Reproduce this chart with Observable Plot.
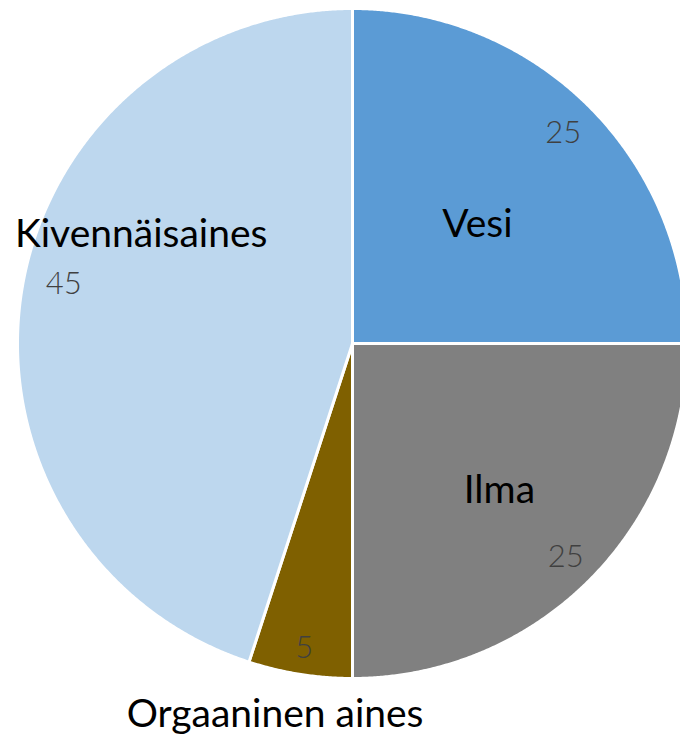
<!DOCTYPE html>
<html>
<head>
<meta charset="utf-8">
<script src="https://cdn.jsdelivr.net/npm/d3@7"></script>
<script src="https://cdn.jsdelivr.net/npm/@observablehq/plot@0.6"></script>
<style>
  html, body { margin: 0; padding: 0; background: #fff; }
</style>
</head>
<body>
<div id="chart"></div>
<script>
// Data
const categories = ["Vesi", "Ilma", "Orgaaninen aines", "Kivennäisaines"];
const values = [25, 25, 5, 45];

// Styles
const colors = ["#5B9BD5", "#808080", "#7F6000", "#BDD7EE"];

// Layout: label placement relative to slice mid-angle (radius factor, angle offset in degrees)
const valueLabelLayout = [
  {r: 0.89, da: 0}, {r: 0.90, da: 0}, {r: 0.92, da: 0}, {r: 0.88, da: 2.7}
];
const catLabelLayout = [
  {r: 0.515, da: 1.4}, {r: 0.62, da: 0}, {r: 1.13, da: 2.8}, {r: 0.71, da: 18.3}
];

const W = 680, H = 735;
const cx = 352, cy = 343, R = 335;

const pie = d3.pie().sort(null).value(d => d.value).startAngle(0).endAngle(2 * Math.PI);
const rows = categories.map((c, i) => ({category: c, value: values[i], i}));
const arcs = pie(rows);

// Build slice polygons (center + sampled arc) in unit coordinates
const polys = [];
arcs.forEach(a => {
  const c = a.data.category;
  polys.push({category: c, x: 0, y: 0});
  const n = Math.max(2, Math.ceil((a.endAngle - a.startAngle) / 0.005));
  for (let k = 0; k <= n; k++) {
    const t = a.startAngle + (a.endAngle - a.startAngle) * k / n;
    polys.push({category: c, x: Math.sin(t), y: Math.cos(t)});
  }
});

const deg = Math.PI / 180;
const valueLabels = arcs.map(a => {
  const L = valueLabelLayout[a.data.i];
  const m = (a.startAngle + a.endAngle) / 2 + L.da * deg;
  return {text: String(a.data.value), x: L.r * Math.sin(m), y: L.r * Math.cos(m)};
});
const catLabels = arcs.map(a => {
  const L = catLabelLayout[a.data.i];
  const m = (a.startAngle + a.endAngle) / 2 + L.da * deg;
  return {text: a.data.category, x: L.r * Math.sin(m), y: L.r * Math.cos(m)};
});

const chart = Plot.plot({
  width: W,
  height: H,
  margin: 0,
  x: {domain: [-cx / R, (W - cx) / R], axis: null},
  y: {domain: [-(H - cy) / R, cy / R], axis: null},
  color: {domain: categories, range: colors},
  marks: [
    Plot.line(polys, {
      x: "x", y: "y", z: "category",
      fill: "category",
      stroke: "white",
      strokeWidth: 3,
      strokeLinejoin: "round",
      curve: "linear-closed"
    }),
    Plot.text(valueLabels, {
      x: "x", y: "y", text: "text",
      fontSize: 31, fontFamily: "Lato", fontWeight: 300,
      fill: "#404040"
    }),
    Plot.text(catLabels, {
      x: "x", y: "y", text: "text",
      fontSize: 39, fontFamily: "Lato",
      fill: "#000000"
    })
  ]
});
document.getElementById("chart").appendChild(chart);
</script>
</body>
</html>
